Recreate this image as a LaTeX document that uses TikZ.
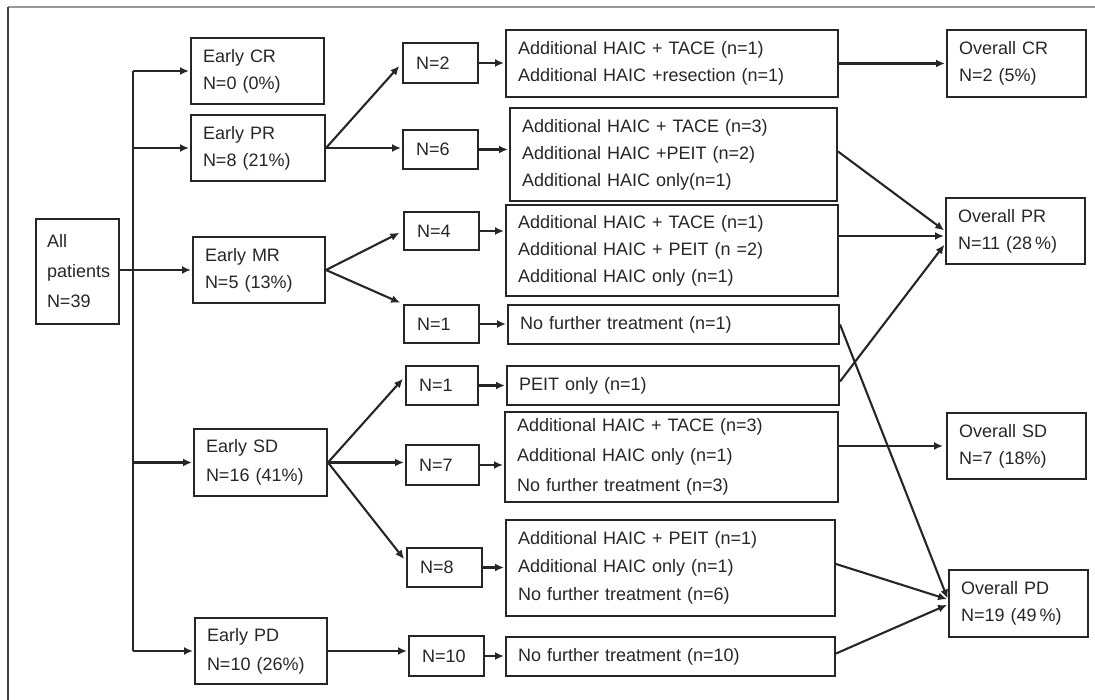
\documentclass[tikz,border=0pt]{standalone}
\usepackage{fontspec}
\setmainfont{Liberation Sans}
\usetikzlibrary{arrows.meta,calc}
\definecolor{ink}{HTML}{262626}
\definecolor{txt}{HTML}{262626}
\begin{document}
\begin{tikzpicture}[x=1pt,y=-1pt,
  box/.style={draw=ink, line width=2pt, anchor=north west, align=left, inner xsep=12pt, inner ysep=2pt,
    text=txt, font=\fontsize{18}{27}\selectfont},
  conn/.style={draw=ink, line width=2.1pt},
  arr/.style={conn, -{Latex[length=9pt,width=8pt]}, shorten >=1pt}]
\useasboundingbox (0,0) rectangle (1095,700);
\draw[line width=1.3pt, draw=black!40] (8,7) -- (1095,7);
\draw[line width=1.8pt, draw=black!75] (8,7) -- (8,700);

% column 1
\node[box, text width=61pt, inner xsep=11pt, minimum height=105pt, font=\fontsize{18}{30}\selectfont] (all) at (35,218) {All\\patients\\N=39};
% column 2
\node[box, text width=109pt, minimum height=66pt] (ecr) at (190,37) {Early CR\\N=0 (0\%)};
\node[box, text width=110pt, minimum height=66pt] (epr) at (190,114) {Early PR\\N=8 (21\%)};
\node[box, text width=108pt, minimum height=66pt] (emr) at (192,236) {Early MR\\N=5 (13\%)};
\node[box, text width=109pt, minimum height=67pt, font=\fontsize{18}{29}\selectfont] (esd) at (193,428) {Early SD\\N=16 (41\%)};
\node[box, text width=108pt, minimum height=66pt, font=\fontsize{18}{29}\selectfont] (epd) at (194,617) {Early PD\\N=10 (26\%)};
% column 3
\node[box, text width=49pt, inner xsep=13pt, minimum height=40pt] (n2) at (402,42) {N=2};
\node[box, text width=49pt, inner xsep=13pt, minimum height=39pt] (n6) at (402,129) {N=6};
\node[box, text width=49pt, inner xsep=13pt, minimum height=38pt] (n4) at (403,211) {N=4};
\node[box, text width=49pt, inner xsep=13pt, minimum height=38pt] (n1a) at (403,304) {N=1};
\node[box, text width=46pt, inner xsep=13pt, minimum height=39pt] (n1b) at (405,365) {N=1};
\node[box, text width=47pt, inner xsep=13pt, minimum height=40pt] (n7) at (405,444) {N=7};
\node[box, text width=49pt, inner xsep=13pt, minimum height=39pt] (n8) at (406,547) {N=8};
\node[box, text width=49pt, inner xsep=13pt, minimum height=40pt] (n10) at (408,635) {N=10};
% column 4
\node[box, text width=308pt, minimum height=67pt] (t1) at (505,29) {Additional HAIC + TACE (n=1)\\Additional HAIC +resection (n=1)};
\node[box, text width=303pt, minimum height=93pt] (t2) at (509,107) {Additional HAIC + TACE (n=3)\\Additional HAIC +PEIT (n=2)\\Additional HAIC only(n=1)};
\node[box, text width=308pt, minimum height=91pt] (t3) at (505,204) {Additional HAIC + TACE (n=1)\\Additional HAIC + PEIT (n =2)\\Additional HAIC only (n=1)};
\node[box, text width=307pt, minimum height=39pt] (t4) at (507,304) {No further treatment (n=1)};
\node[box, text width=308pt, minimum height=39pt] (t5) at (506,365) {PEIT only (n=1)};
\node[box, text width=309pt, minimum height=90pt, font=\fontsize{18}{30}\selectfont] (t6) at (504,411) {Additional HAIC + TACE (n=3)\\Additional HAIC only (n=1)\\No further treatment (n=3)};
\node[box, text width=305pt, minimum height=96pt, font=\fontsize{18}{28}\selectfont] (t7) at (505,519) {Additional HAIC + PEIT (n=1)\\Additional HAIC only (n=1)\\No further treatment (n=6)};
\node[box, text width=305pt, minimum height=39pt] (t8) at (505,636) {No further treatment (n=10)};
% column 5
\node[box, text width=115pt, minimum height=67pt] (ocr) at (946,29) {Overall CR\\N=2 (5\%)};
\node[box, text width=115pt, minimum height=66pt] (opr) at (945,197) {Overall PR\\N=11 (28\,\%)};
\node[box, text width=115pt, minimum height=66pt] (osd) at (946,412) {Overall SD\\N=7 (18\%)};
\node[box, text width=115pt, minimum height=67pt] (opd) at (948,569) {Overall PD\\N=19 (49\,\%)};

% trunk
\coordinate (tt) at (133,0 |- ecr.west);
\coordinate (tb) at (133,0 |- epd.west);
\draw[conn] (tt) -- (tb);
\draw[arr] (tt) -- (ecr.west);
\draw[arr] (tt |- epr.west) -- (epr.west);
\draw[arr] (all.east |- emr.west) -- (emr.west);
\draw[arr] (tt |- esd.west) -- (esd.west);
\draw[arr] (tb) -- (epd.west);

% splits
\draw[arr, shorten >=4pt] (epr.east) -- (n2.west);
\draw[arr] (epr.east) -- (epr.east -| n6.west);
\draw[arr, shorten >=4pt] (emr.east) -- (n4.west);
\draw[arr, shorten >=3pt] (emr.east) -- (n1a.north west);
\draw[arr, shorten >=3pt] (esd.east) -- ([yshift=9pt]n1b.west);
\draw[arr] (esd.east) -- (esd.east -| n7.west);
\draw[arr, shorten >=3pt] (esd.east) -- ([yshift=6pt]n8.west);
\draw[arr] (epd.east) -- (epd.east -| n10.west);

% N -> treatment
\draw[arr] (n2.east) -- (n2.east -| t1.west);
\draw[arr] (n6.east) -- (n6.east -| t2.west);
\draw[arr] (n4.east) -- (n4.east -| t3.west);
\draw[arr] (n1a.east) -- (n1a.east -| t4.west);
\draw[arr] (n1b.east) -- (n1b.east -| t5.west);
\draw[arr] (n7.east) -- (n7.east -| t6.west);
\draw[arr] (n8.east) -- (n8.east -| t7.west);
\draw[arr] (n10.east) -- (n10.east -| t8.west);

% treatment -> overall
\coordinate (oprin) at ([yshift=-5pt]opr.west);
\draw[arr] (t1.east |- ocr.west) -- (ocr.west);
\draw[arr] ([yshift=3pt]t2.east) -- (opr.west);
\draw[arr] (t3.east |- oprin) -- (oprin);
\draw[arr] ([yshift=4pt]t5.east) -- ([yshift=-13pt]opr.west);
\draw[arr] (t4.east) -- ([yshift=4pt]opd.west);
\draw[arr, shorten >=3pt] (t6.east |- osd.west) -- (osd.west);
\draw[arr] ([yshift=4pt]t7.east) -- ([yshift=4pt]opd.west);
\draw[arr] ([yshift=3pt]t8.east) -- ([yshift=-1pt]opd.west);
\end{tikzpicture}
\end{document}
